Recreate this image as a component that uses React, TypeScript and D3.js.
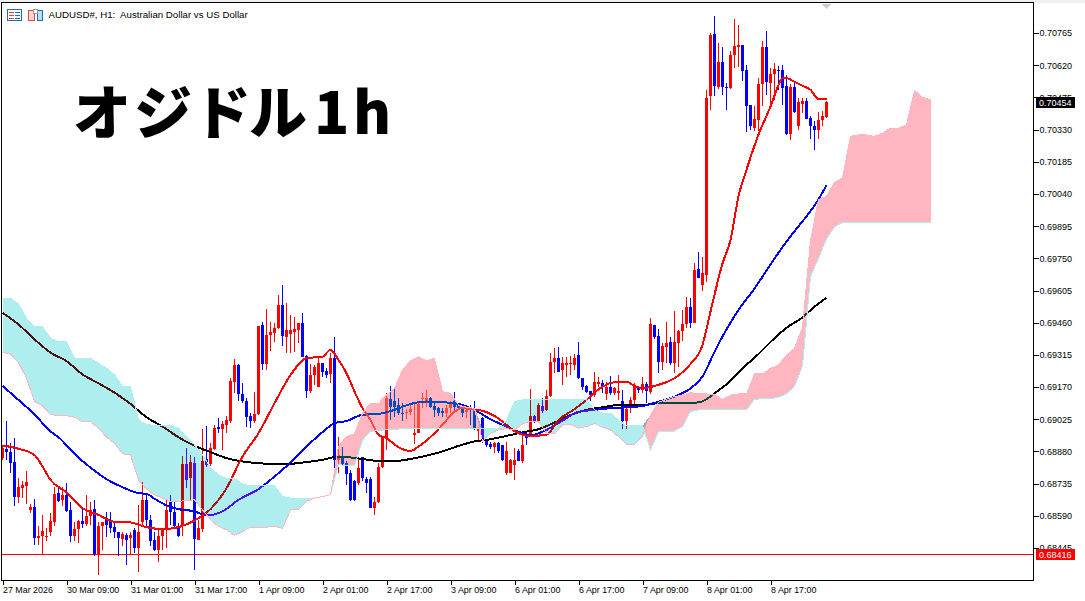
import { useRef, useEffect } from 'react';
import { select, scaleLinear, axisRight, axisBottom, line, area, curveMonotoneX, curveLinear, rgb } from 'd3';

// prices are kept in points (1 point = 0.00001)
const highs = [
  68910,69017,68917,68940,68760,68745,68794,68644,68665,68545,
  68594,68534,68602,68719,68722,68719,68737,68650,68560,68572,
  68620,68684,68654,68662,68564,68564,68605,68606,68560,68519,
  68519,68512,68519,68534,68640,68741,68684,68594,68519,68534,
  68534,68662,68684,68650,68557,68860,68895,68864,68857,68572,
  68980,68995,68917,68999,69030,69017,69040,69210,69296,69274,
  69190,69120,69055,69150,69447,69462,69522,69464,69457,69585,
  69630,69547,69495,69487,69457,69502,69315,69272,69270,69300,
  69280,69255,69322,69397,68947,68902,68835,68797,68752,68850,
  68857,68767,68767,68677,68827,68947,69142,69175,69169,69119,
  69097,69070,69089,69097,69105,69142,69157,69127,69097,69082,
  69074,69089,69105,69147,69094,69082,69079,69089,69107,69007,
  69037,68932,68924,68924,68924,68910,68924,68845,68895,68890,
  68950,68962,69160,69044,69097,69119,69157,69322,69345,69352,
  69307,69304,69310,69319,69374,69212,69179,69154,69239,69217,
  69202,69194,69220,69172,69224,69157,69085,69127,69187,69169,
  69217,69194,69480,69450,69430,69367,69462,69397,69512,69427,
  69517,69574,69569,69727,69777,69757,70509,70767,70842,70719,
  70704,70539,70682,70829,70802,70712,70621,70441,70437,70561,
  70729,70774,70606,70632,70617,70621,70576,70536,70539,70471,
  70471,70471,70392,70367,70407,70412,70457,
];
const lows = [
  68842,68842,68785,68635,68647,68670,68644,68602,68460,68460,
  68419,68475,68497,68545,68650,68632,68605,68470,68475,68467,
  68534,68542,68549,68410,68325,68437,68494,68512,68489,68410,
  68452,68370,68414,68422,68335,68542,68534,68452,68430,68380,
  68437,68444,68549,68534,68494,68497,68715,68662,68344,68479,
  68519,68812,68815,68887,68965,68887,68962,69010,69142,69105,
  69097,68992,68985,69007,69045,69247,69247,69334,69374,69430,
  69355,69325,69325,69330,69370,69304,69120,69142,69180,69169,
  69217,69210,69187,68782,68782,68815,68730,68655,68655,68730,
  68745,68692,68625,68592,68647,68805,68887,69022,69037,69044,
  69019,69025,69044,68914,68962,69074,69082,69074,69037,69040,
  69034,69034,69052,69067,69067,69037,69029,68999,68977,68925,
  68917,68902,68890,68875,68875,68835,68775,68782,68752,68835,
  68830,68910,68944,69007,69010,69055,69064,69127,69232,69237,
  69180,69217,69224,69247,69205,69157,69142,69105,69127,69172,
  69142,69112,69134,69134,69112,68980,68980,69052,69089,69142,
  69142,69097,69139,69385,69235,69247,69280,69270,69235,69262,
  69377,69434,69437,69457,69660,69604,69644,70416,70479,70512,
  70486,70419,70512,70609,70614,70547,70317,70326,70322,70322,
  70437,70486,70437,70464,70509,70441,70306,70281,70404,70326,
  70404,70377,70289,70239,70289,70344,70382,
];
const opens = [
  68850,68892,68878,68833,68677,68716,68725,68617,68629,68492,
  68497,68494,68519,68564,68692,68662,68684,68614,68500,68531,
  68567,68552,68587,68621,68419,68546,68569,68569,68539,68516,
  68486,68504,68489,68527,68444,68560,68662,68572,68482,68434,
  68501,68530,68657,68606,68545,68545,68824,68759,68830,68479,
  68530,68846,68824,68891,68992,68981,68999,69019,69195,69270,
  69139,69107,69040,69019,69049,69450,69274,69404,69412,69434,
  69540,69397,69409,69419,69427,69460,69310,69152,69225,69172,
  69277,69244,69229,69300,68842,68860,68830,68785,68749,68737,
  68854,68757,68757,68627,68652,68809,68940,69115,69105,69090,
  69055,69052,69057,68952,68965,69115,69105,69120,69085,69077,
  69062,69055,69074,69105,69089,69070,69059,69082,69070,68970,
  69029,68927,68914,68902,68917,68907,68782,68785,68820,68884,
  68835,68955,68955,69040,69019,69085,69067,69130,69282,69300,
  69247,69269,69274,69269,69314,69209,69175,69152,69132,69184,
  69190,69139,69169,69145,69145,69109,69019,69075,69112,69165,
  69157,69184,69149,69450,69400,69284,69352,69373,69277,69370,
  69422,69454,69532,69460,69702,69632,69675,70479,70761,70521,
  70636,70522,70516,70664,70704,70712,70599,70441,70337,70374,
  70534,70704,70539,70581,70599,70599,70524,70309,70521,70347,
  70446,70459,70384,70347,70329,70371,70386,
];
const closes = [
  68895,68877,68830,68677,68719,68730,68743,68629,68492,68500,
  68522,68497,68567,68689,68657,68684,68612,68501,68530,68567,
  68552,68590,68617,68419,68546,68564,68549,68534,68515,68489,
  68507,68483,68504,68444,68519,68662,68572,68477,68434,68501,
  68527,68617,68606,68545,68500,68824,68752,68834,68485,68534,
  68839,68819,68895,68984,68981,69002,69022,69199,69270,69139,
  69105,69037,69019,69049,69447,69274,69404,69416,69434,69540,
  69401,69427,69427,69430,69457,69307,69152,69225,69259,69277,
  69240,69225,69300,68842,68865,68824,68779,68659,68659,68807,
  68759,68737,68627,68652,68809,68947,69120,69079,69082,69052,
  69052,69059,69072,68962,69094,69120,69120,69082,69067,69055,
  69052,69077,69097,69082,69074,69052,69067,69067,68985,68985,
  68932,68910,68899,68920,68880,68842,68880,68842,68842,68839,
  68910,68940,69040,69019,69089,69062,69130,69282,69300,69240,
  69277,69280,69277,69300,69209,69172,69149,69132,69194,69194,
  69172,69172,69142,69165,69152,69019,69072,69112,69172,69157,
  69184,69154,69454,69397,69284,69355,69367,69280,69373,69422,
  69454,69532,69460,69697,69662,69682,70474,70757,70524,70636,
  70521,70519,70667,70707,70712,70596,70437,70344,70379,70536,
  70704,70546,70581,70603,70596,70519,70309,70521,70407,70452,
  70459,70379,70344,70329,70374,70392,70454,
];

// moving averages, read at the listed bars
const fastBars = [0,4,8,10,12,16,20,24,28,32,36,40,44,48,52,56,60,64,68,72,76,80,82,84,86,88,90,92,94,96,99,102,104,108,110,113,115,117,119,123,125,128,132,136,139,143,146,149,154,156,158,160,164,168,172,175,177,180,182,184,186,189,192,194,195,196,198,200,202,204,206];
const fastMa = [68907,68892,68864,68812,68752,68695,68624,68594,68563,68560,68539,68530,68539,68569,68620,68714,68857,68962,69097,69224,69300,69307,69337,69292,69232,69150,69075,69022,68955,68940,68899,68882,68902,68962,69000,69059,69077,69070,69067,69040,69014,68972,68950,68955,69022,69070,69112,69160,69194,69194,69175,69165,69180,69210,69274,69360,69510,69727,69832,70029,70149,70307,70434,70530,70562,70562,70545,70527,70509,70467,70467];
const midBars = [0,4,8,12,14,18,22,26,30,34,36,38,41,44,48,50,52,55,59,64,68,72,76,80,83,86,90,94,98,102,106,110,114,118,122,126,130,132,136,140,144,148,152,156,160,164,168,172,175,178,181,184,188,190,193,197,199,201,203,206];
const midMa = [69175,69112,69047,68970,68944,68869,68807,68755,68719,68692,68689,68667,68637,68620,68610,68597,68594,68610,68662,68710,68767,68830,68902,68967,69007,69017,69045,69049,69067,69094,69105,69102,69094,69067,69025,68992,68962,68953,68977,69019,69059,69067,69075,69079,69085,69104,69127,69164,69217,69329,69430,69517,69614,69667,69749,69849,69894,69939,69987,70079];
const slowBars = [0,4,8,12,16,20,24,28,32,36,40,44,48,52,56,60,64,70,76,80,84,90,94,98,102,106,110,114,118,122,126,130,134,138,142,146,150,154,160,164,170,174,176,178,181,185,189,193,196,200,203,206];
const slowMa = [69505,69452,69385,69325,69287,69227,69187,69145,69094,69034,68992,68944,68905,68877,68850,68835,68827,68822,68832,68842,68857,68846,68837,68837,68846,68861,68880,68905,68925,68935,68950,68966,68980,69010,69044,69067,69079,69089,69089,69097,69097,69101,69115,69142,69182,69254,69319,69390,69437,69484,69532,69572];

// ichimoku spans, one value every second bar, running 26 bars past the last candle
const spanA = [
  69325,69319,69280,69210,69105,69085,69047,69041,69041,69034,69014,69014,68985,68944,68917,68869,68865,68752,68710,68685,68670,
  68655,68655,68659,68662,68617,68572,68542,68527,68502,68519,68539,68539,68539,68542,68534,68617,68617,68655,68670,68677,68685,
  68902,68947,68959,69052,69097,69097,69134,69164,69247,69289,69307,69289,69299,69149,69142,69089,69079,69074,
  68925,68962,68977,68983,68977,69004,69017,69014,68962,68959,69000,69002,68985,68992,69007,68989,68977,68947,68910,68910,68950,
  69045,69102,69115,69127,69134,69145,69139,69139,69136,69115,69134,69139,69139,69229,69229,69254,69270,69314,69344,69439,
  69830,70014,70029,70092,70112,70300,70306,70306,70299,70314,70336,70336,70351,70506,70476,70464,
];
const spanB = [
  69570,69570,69544,69480,69442,69442,69390,69375,69375,69300,69300,69300,69277,69255,69225,69172,69172,69022,69002,68997,68997,
  68997,68985,68947,68910,68865,68805,68775,68757,68757,68734,68725,68725,68725,68725,68677,68670,68670,68670,68670,68677,68685,
  68820,68817,68815,68932,68969,68974,68977,68980,68982,68983,68983,68983,68983,68983,68983,68983,68983,68983,
  68983,68983,68983,69019,69105,69112,69112,69112,69112,69112,69112,69112,69112,69112,69067,69052,69052,69022,68995,68995,68995,
  68887,68970,68970,68972,68992,69060,69067,69067,69067,69067,69067,69067,69067,69115,69117,69117,69124,69139,69172,69265,
  69667,69750,69837,69891,69912,69912,69912,69912,69912,69912,69912,69912,69912,69912,69912,69912,
];

const priceTicks = [68445,68590,68735,68880,69025,69170,69315,69460,69605,69750,69895,70040,70185,70330,70475,70620,70765];
const timeTicks = [0,16,32,48,64,80,96,112,128,144,160,176,192];
const timeLabels = ['27 Mar 2026','30 Mar 09:00','31 Mar 01:00','31 Mar 17:00','1 Apr 09:00','2 Apr 01:00','2 Apr 17:00','3 Apr 09:00','6 Apr 01:00','6 Apr 17:00','7 Apr 09:00','8 Apr 01:00','8 Apr 17:00'];

const lastPrice = 70454;
const levelPrice = 68416;

const UP = '#ff0000';
const DOWN = '#0000ff';
const CLOUD_BEAR = '#afeeee';
const CLOUD_BULL = '#ffb6c1';
const LABEL_FONT = '"Liberation Sans", Arial, sans-serif';

const WIDTH = 1085;
const HEIGHT = 601;
const plot = { left: 2, right: 1033, top: 3, bottom: 580 };

// the terminal xors the cloud over the finished chart, difference with the inverse does the same
const inverse = (c: string) => {
  const { r, g, b } = rgb(c);
  return rgb(255 - r, 255 - g, 255 - b).formatHex();
};

export default function App() {
  const svgRef = useRef<SVGSVGElement>(null);

  useEffect(() => {
    if (!svgRef.current) return;
    const svg = select(svgRef.current);
    svg.selectAll('*').remove();

    const x = scaleLinear().domain([0, 206]).range([2.5, 826.5]);
    const y = scaleLinear().domain([68445, 70765]).range([548, 33]);
    const fmt = (v: number) => (v / 1e5).toFixed(5);

    svg.append('rect').attr('width', WIDTH).attr('height', plot.top).attr('fill', '#f0f0f0');

    svg.append('defs').append('clipPath').attr('id', 'plot-clip')
      .append('rect')
      .attr('x', plot.left)
      .attr('y', plot.top)
      .attr('width', plot.right - plot.left)
      .attr('height', plot.bottom - plot.top);

    const g = svg.append('g').attr('clip-path', 'url(#plot-clip)');
    // backdrop for the cloud blend has to live inside the clipped group
    g.append('rect').attr('width', WIDTH).attr('height', HEIGHT).attr('fill', '#fff');

    // Level line
    g.append('line')
      .attr('x1', plot.left)
      .attr('x2', plot.right)
      .attr('y1', Math.round(y(levelPrice)) + 0.5)
      .attr('y2', Math.round(y(levelPrice)) + 0.5)
      .attr('stroke', UP)
      .attr('shape-rendering', 'crispEdges');

    // Candles
    const candles = g.selectAll('.candle')
      .data(opens.map((open, i) => ({ i, open, close: closes[i], high: highs[i], low: lows[i] })))
      .enter()
      .append('g')
      .attr('shape-rendering', 'crispEdges')
      .attr('fill', (d) => (d.close >= d.open ? UP : DOWN));
    candles.append('rect')
      .attr('x', (d) => x(d.i) - 0.5)
      .attr('y', (d) => y(d.high))
      .attr('width', 1)
      .attr('height', (d) => y(d.low) - y(d.high));
    candles.append('rect')
      .attr('x', (d) => x(d.i) - 1.5)
      .attr('y', (d) => y(Math.max(d.open, d.close)))
      .attr('width', 3)
      .attr('height', (d) => Math.max(1, Math.abs(y(d.open) - y(d.close))));

    // Moving averages
    const maLines: [number[], number[], string][] = [
      [slowBars, slowMa, '#000000'],
      [midBars, midMa, DOWN],
      [fastBars, fastMa, UP],
    ];
    maLines.forEach(([bars, values, color]) => {
      const path = line<number>()
        .x((d) => x(d))
        .y((_, k) => y(values[k]))
        .curve(curveMonotoneX);
      g.append('path')
        .attr('d', path(bars))
        .attr('fill', 'none')
        .attr('stroke', color)
        .attr('stroke-width', 2)
        .attr('shape-rendering', 'crispEdges');
    });

    // Cloud
    const cloud = spanA.map((a, k) => ({ bar: k * 2, a, b: spanB[k] }));
    const bullArea = area<{ bar: number; a: number; b: number }>()
      .x((d) => x(d.bar))
      .y0((d) => y(d.b))
      .y1((d) => y(Math.max(d.a, d.b)))
      .curve(curveLinear);
    const bearArea = area<{ bar: number; a: number; b: number }>()
      .x((d) => x(d.bar))
      .y0((d) => y(d.a))
      .y1((d) => y(Math.max(d.a, d.b)))
      .curve(curveLinear);
    g.append('path').attr('d', bullArea(cloud)).attr('fill', inverse(CLOUD_BULL))
      .attr('shape-rendering', 'crispEdges').style('mix-blend-mode', 'difference');
    g.append('path').attr('d', bearArea(cloud)).attr('fill', inverse(CLOUD_BEAR))
      .attr('shape-rendering', 'crispEdges').style('mix-blend-mode', 'difference');

    const edge = line<{ bar: number; v: number }>().x((d) => x(d.bar)).y((d) => y(d.v));
    g.append('path').attr('d', edge(cloud.map((d) => ({ bar: d.bar, v: d.b })))).attr('fill', 'none')
      .attr('stroke', CLOUD_BEAR).attr('shape-rendering', 'crispEdges');
    g.append('path').attr('d', edge(cloud.map((d) => ({ bar: d.bar, v: d.a })))).attr('fill', 'none')
      .attr('stroke', CLOUD_BULL).attr('shape-rendering', 'crispEdges');

    // Frame
    svg.append('rect')
      .attr('x', plot.left - 0.5)
      .attr('y', plot.top - 0.5)
      .attr('width', plot.right - plot.left + 1)
      .attr('height', plot.bottom - plot.top + 1)
      .attr('fill', 'none')
      .attr('stroke', '#000')
      .attr('shape-rendering', 'crispEdges');

    // Price axis
    const yAxis = svg.append('g')
      .attr('transform', `translate(${plot.right + 0.5},0)`)
      .call(axisRight(y).tickValues(priceTicks).tickSize(5).tickPadding(1).tickFormat((d) => fmt(d as number)));
    yAxis.select('.domain').remove();
    yAxis.selectAll('line').attr('shape-rendering', 'crispEdges');
    yAxis.selectAll('text').attr('font-family', LABEL_FONT).attr('font-size', 9).attr('fill', '#000');

    // Time axis
    const xAxis = svg.append('g')
      .attr('transform', `translate(0,${plot.bottom + 0.5})`)
      .call(axisBottom(x).tickValues(timeTicks).tickSize(4).tickPadding(2).tickFormat((_, k) => timeLabels[k]));
    xAxis.select('.domain').remove();
    xAxis.selectAll('line').attr('shape-rendering', 'crispEdges');
    xAxis.selectAll('text')
      .attr('font-family', LABEL_FONT)
      .attr('font-size', 8.9)
      .attr('fill', '#000')
      .attr('text-anchor', 'start');

    // Price tags
    const tags: [number, string, string][] = [
      [lastPrice, '#000000', '#ffffff'],
      [levelPrice, UP, '#ffffff'],
    ];
    tags.forEach(([price, bg, fg]) => {
      const cy = y(price);
      svg.append('rect')
        .attr('x', 1036)
        .attr('y', Math.round(cy) - 5)
        .attr('width', 39)
        .attr('height', 11)
        .attr('fill', bg)
        .attr('shape-rendering', 'crispEdges');
      svg.append('text')
        .attr('x', 1039)
        .attr('y', Math.round(cy) + 3.5)
        .attr('font-family', LABEL_FONT)
        .attr('font-size', 9)
        .attr('fill', fg)
        .text(fmt(price));
    });

    // Marker at the top of the last bar
    svg.append('path')
      .attr('d', `M${x(206) - 5},4 L${x(206) + 5},4 L${x(206)},9 Z`)
      .attr('fill', '#cccccc');

    // Title icons
    const icons = svg.append('g').attr('shape-rendering', 'crispEdges');
    icons.append('rect').attr('x', 7.5).attr('y', 9.5).attr('width', 14).attr('height', 11).attr('fill', '#fff').attr('stroke', '#1c6fb5');
    [12, 15, 18].forEach((ly) => {
      icons.append('rect').attr('x', 9).attr('y', ly).attr('width', 5).attr('height', 1).attr('fill', '#e8463c');
      icons.append('rect').attr('x', 15).attr('y', ly).attr('width', 5).attr('height', 1).attr('fill', '#1c6fb5');
    });
    icons.append('rect').attr('x', 28.5).attr('y', 10.5).attr('width', 6).attr('height', 10).attr('fill', '#fbd5cf').attr('stroke', '#e8463c');
    icons.append('rect').attr('x', 37.5).attr('y', 10.5).attr('width', 5).attr('height', 10).attr('fill', '#bcdcf2').attr('stroke', '#1c6fb5');
    icons.append('rect').attr('x', 33.5).attr('y', 9.5).attr('width', 4).attr('height', 4).attr('fill', '#fff').attr('stroke', '#9a9a9a');

    // Title
    svg.append('text')
      .attr('x', 48.5)
      .attr('y', 18)
      .attr('font-family', LABEL_FONT)
      .attr('font-size', 9.7)
      .attr('fill', '#000')
      .style('white-space', 'pre')
      .text('AUDUSD#, H1:  Australian Dollar vs US Dollar');

    // glyph starts follow the wider spacing of the original font
    svg.append('text')
      .attr('x', '73 134 193 249 314 353')
      .attr('y', 134)
      .attr('font-family', '"Noto Sans CJK JP", sans-serif')
      .attr('font-weight', 900)
      .attr('font-size', 58)
      .attr('fill', '#000')
      .text('オジドル1h');
  }, []);

  return (
    <svg
      ref={svgRef}
      width={WIDTH}
      height={HEIGHT}
      style={{ position: 'absolute', left: 0, top: 0, display: 'block' }}
    />
  );
}
